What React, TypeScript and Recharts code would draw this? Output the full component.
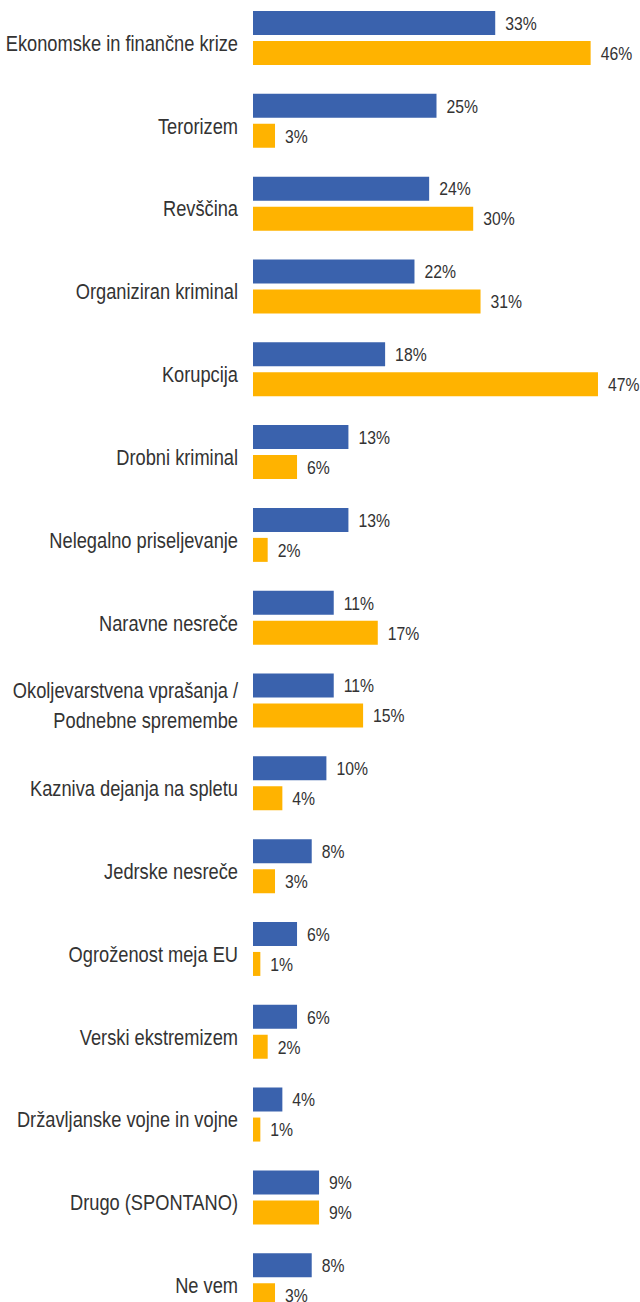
import { BarChart, Bar, XAxis, YAxis, LabelList } from 'recharts'

const categories = [
  'Ekonomske in finančne krize',
  'Terorizem',
  'Revščina',
  'Organiziran kriminal',
  'Korupcija',
  'Drobni kriminal',
  'Nelegalno priseljevanje',
  'Naravne nesreče',
  'Okoljevarstvena vprašanja / Podnebne spremembe',
  'Kazniva dejanja na spletu',
  'Jedrske nesreče',
  'Ogroženost meja EU',
  'Verski ekstremizem',
  'Državljanske vojne in vojne',
  'Drugo (SPONTANO)',
  'Ne vem',
]
const blueValues = [33, 25, 24, 22, 18, 13, 13, 11, 11, 10, 8, 6, 6, 4, 9, 8]
const orangeValues = [46, 3, 30, 31, 47, 6, 2, 17, 15, 4, 3, 1, 2, 1, 9, 3]

const data = categories.map((name, i) => ({ name, blue: blueValues[i], orange: orangeValues[i] }))

// no narrow font installed -> squeeze Liberation Sans horizontally
const FONT = '"Liberation Sans", Arial, sans-serif'
const SQUEEZE = 0.83

const CategoryTick = (props: any) => {
  const { x, y, payload } = props
  const text: string = payload.value
  const lines = text.includes(' / ')
    ? [text.split(' / ')[0] + ' /', text.split(' / ')[1]]
    : [text]
  const offs = lines.length > 1 ? [-10.5, 19.5] : [4.5]
  return (
    <g transform={`translate(${x},${y}) scale(${SQUEEZE},1)`}>
      {lines.map((l, i) => (
        <text key={i} x={0} y={offs[i]} dy="0.36em" textAnchor="end" fontSize={22} fill="#333" fontFamily={FONT}>
          {l}
        </text>
      ))}
    </g>
  )
}

const ValueLabel = (props: any) => {
  const { x, y, width, height, value } = props
  return (
    <text
      transform={`translate(${x + width + 10},${y + height / 2}) scale(${SQUEEZE},1)`}
      x={0}
      y={0}
      dy="0.36em"
      fontSize={19}
      fill="#333"
      fontFamily={FONT}
    >
      {`${value}%`}
    </text>
  )
}

export default function App() {
  return (
    <div style={{ position: 'absolute', top: -3, left: 0 }}>
      <BarChart
        width={640}
        height={1325}
        data={data}
        layout="vertical"
        margin={{ top: 0, right: 20, bottom: 0, left: 0 }}
        barSize={24}
        barGap={6}
      >
        <XAxis type="number" domain={[0, 50]} hide />
        <YAxis
          type="category"
          dataKey="name"
          width={253}
          axisLine={false}
          tickLine={false}
          tickSize={0}
          tickMargin={15}
          interval={0}
          tick={<CategoryTick />}
        />
        <Bar dataKey="blue" fill="#3a62ad" isAnimationActive={false}>
          <LabelList dataKey="blue" content={<ValueLabel />} />
        </Bar>
        <Bar dataKey="orange" fill="#ffb300" isAnimationActive={false}>
          <LabelList dataKey="orange" content={<ValueLabel />} />
        </Bar>
      </BarChart>
    </div>
  )
}
